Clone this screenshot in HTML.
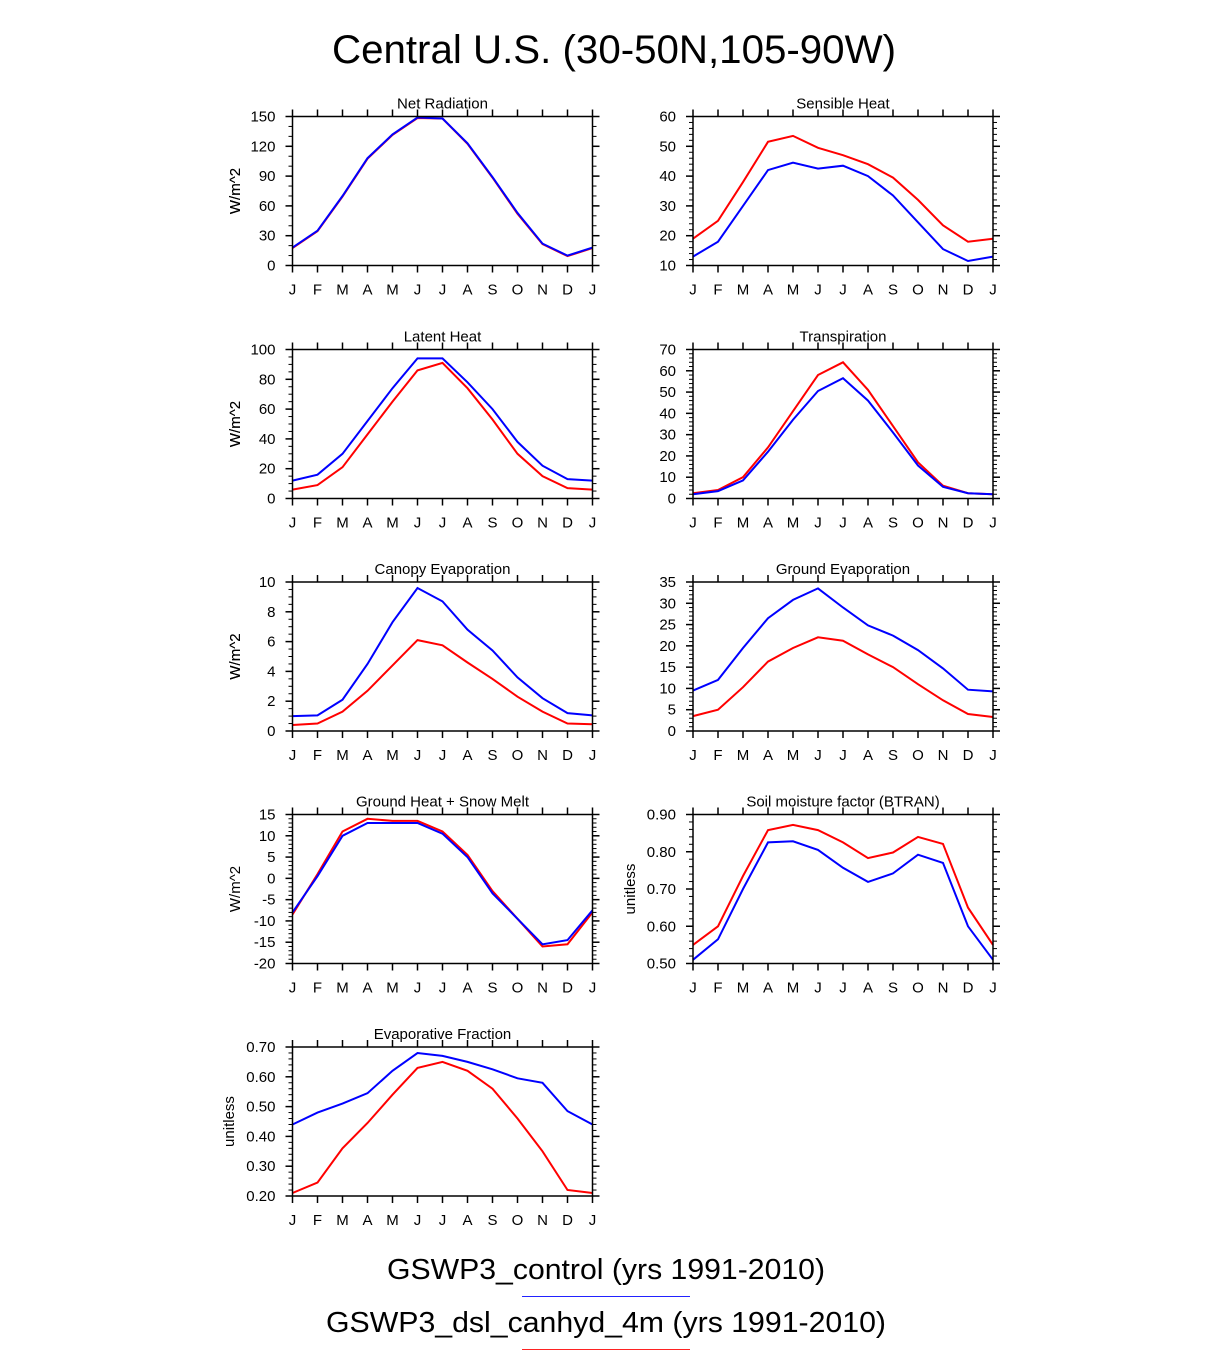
<!DOCTYPE html>
<html><head><meta charset="utf-8"><style>
html,body{margin:0;padding:0;background:#fff;}
svg{display:block;font-family:"Liberation Sans",Arial,sans-serif;}
</style></head><body>
<svg id="fig" width="1224" height="1351" viewBox="0 0 1224 1351" xmlns="http://www.w3.org/2000/svg">
<text x="614" y="63" font-size="40" text-anchor="middle" textLength="564" lengthAdjust="spacingAndGlyphs">Central U.S. (30-50N,105-90W)</text>
<text x="606" y="1279" font-size="29" text-anchor="middle" textLength="438" lengthAdjust="spacingAndGlyphs">GSWP3_control (yrs 1991-2010)</text>
<line x1="522" y1="1296.5" x2="690" y2="1296.5" stroke="#2222ff" stroke-width="1"/>
<text x="606" y="1332" font-size="29" text-anchor="middle" textLength="560" lengthAdjust="spacingAndGlyphs">GSWP3_dsl_canhyd_4m (yrs 1991-2010)</text>
<line x1="522" y1="1349.5" x2="690" y2="1349.5" stroke="#ff2222" stroke-width="1"/>
</svg>
<script>
const months=["J","F","M","A","M","J","J","A","S","O","N","D","J"];
const titles=["Net Radiation","Sensible Heat","Latent Heat","Transpiration","Canopy Evaporation","Ground Evaporation","Ground Heat + Snow Melt","Soil moisture factor (BTRAN)","Evaporative Fraction"];
const units=["W/m^2","W/m^2","W/m^2","W/m^2","W/m^2","W/m^2","W/m^2","unitless","unitless"];
const yMins=[0,10,0,0,0,0,-20,0.5,0.2];
const yMaxs=[150,60,100,70,10,35,15,0.9,0.7];
const ySteps=[30,10,20,10,2,5,5,0.1,0.1];
const yMinor=[10,2,5,2,0.5,1,1,0.02,0.02];
const yDec=[0,0,0,0,0,0,0,2,2];
const netRadCtl=[18,35,70,108,132,149,148,123,89,53,22,10,18];
const netRadDsl=[17.5,34.5,69.5,107.5,131.5,148.5,148,122.5,88.5,52,21.5,9.5,17.5];
const sensCtl=[13,18,30,42,44.5,42.5,43.5,40,33.5,24.5,15.5,11.5,13];
const sensDsl=[19,25,38,51.5,53.5,49.5,47,44,39.5,32,23.5,18,19];
const latCtl=[12,16,30,52,74,94,94,78,60,38,22,13,12];
const latDsl=[6,9,21,43,65,86,91,74,53,30,15,7,6];
const trCtl=[2,3.5,8.5,22,37,50.5,56.5,46,31,15.5,5.5,2.5,2];
const trDsl=[2.5,4,10,24,41,58,64,51,34,17,6,2.5,2];
const canCtl=[1,1.05,2.1,4.5,7.3,9.6,8.7,6.8,5.4,3.6,2.2,1.2,1.05];
const canDsl=[0.4,0.5,1.3,2.7,4.4,6.1,5.75,4.6,3.5,2.3,1.3,0.5,0.45];
const gevCtl=[9.5,12,19.5,26.5,30.8,33.5,29,24.8,22.4,19,14.7,9.7,9.3];
const gevDsl=[3.5,5,10.3,16.3,19.5,22,21.2,18,15,11,7.2,4,3.3];
const ghCtl=[-8,0.5,10,13,13,13,10.5,5,-3.5,-9.5,-15.5,-14.5,-7.5];
const ghDsl=[-8.5,1,11,14,13.5,13.5,11,5.5,-3,-9.5,-16,-15.5,-8];
const btCtl=[0.51,0.565,0.70,0.825,0.828,0.805,0.757,0.719,0.742,0.792,0.770,0.60,0.51];
const btDsl=[0.55,0.60,0.735,0.858,0.872,0.858,0.825,0.783,0.798,0.840,0.821,0.65,0.55];
const efCtl=[0.44,0.48,0.51,0.545,0.62,0.68,0.67,0.65,0.625,0.595,0.58,0.485,0.44];
const efDsl=[0.21,0.245,0.36,0.445,0.54,0.63,0.65,0.62,0.56,0.46,0.35,0.22,0.21];
const ctlSeries=[netRadCtl,sensCtl,latCtl,trCtl,canCtl,gevCtl,ghCtl,btCtl,efCtl];
const dslSeries=[netRadDsl,sensDsl,latDsl,trDsl,canDsl,gevDsl,ghDsl,btDsl,efDsl];

const NS="http://www.w3.org/2000/svg";
const svg=document.getElementById('fig');
function mk(tag,attrs,parent){const e=document.createElementNS(NS,tag);for(const k in attrs)e.setAttribute(k,attrs[k]);(parent||svg).appendChild(e);return e;}
const colX=[292.5,693];const rowY=[116.5,349.5,582,814.5,1047];const W=300,H=149;
for(let p=0;p<9;p++){
  const x0=colX[p%2],y0=rowY[Math.floor(p/2)];
  const g=mk('g',{});
  
  
  const lo=yMins[p],hi=yMaxs[p];
  const sx=i=>x0+i*W/12;
  const sy=v=>y0+H-(v-lo)/(hi-lo)*H;
  const t=mk('text',{x:x0+W/2,y:y0-8,'font-size':15,'text-anchor':'middle'},g);t.textContent=titles[p];
  
  const ux=p===7?635:(p===8?234:240);
  const u=mk('text',{x:ux,y:y0+H/2,'font-size':15,'text-anchor':'middle',transform:'rotate(-90 '+ux+' '+(y0+H/2)+')'},g);u.textContent=units[p];
  
  for(let i=0;i<13;i++){
    const x=sx(i);
    mk('line',{x1:x,y1:y0,x2:x,y2:y0-7,stroke:'#000','stroke-width':1.5},g);
    mk('line',{x1:x,y1:y0+H,x2:x,y2:y0+H+7,stroke:'#000','stroke-width':1.5},g);
    const l=mk('text',{x:x,y:y0+H+29,'font-size':15,'text-anchor':'middle'},g);l.textContent=months[i];
    
  }
  const nmin=Math.round((hi-lo)/yMinor[p]);
  for(let k=0;k<=nmin;k++){const y=sy(lo+k*yMinor[p]);
    mk('line',{x1:x0-4,y1:y,x2:x0,y2:y,stroke:'#000','stroke-width':1},g);
    mk('line',{x1:x0+W,y1:y,x2:x0+W+4,y2:y,stroke:'#000','stroke-width':1},g);}
  const nmaj=Math.round((hi-lo)/ySteps[p]);
  for(let k=0;k<=nmaj;k++){const v=lo+k*ySteps[p];const y=sy(v);
    mk('line',{x1:x0-7,y1:y,x2:x0,y2:y,stroke:'#000','stroke-width':1.5},g);
    mk('line',{x1:x0+W,y1:y,x2:x0+W+7,y2:y,stroke:'#000','stroke-width':1.5},g);
    const l=mk('text',{x:x0-17,y:y+5,'font-size':15,'text-anchor':'end'},g);l.textContent=v.toFixed(yDec[p]);
    }
  const d=s=>s.map((v,i)=>(i?'L':'M')+sx(i).toFixed(1)+','+sy(v).toFixed(1)).join('');
  const r=mk('path',{d:d(dslSeries[p]),fill:'none',stroke:'#ff0000','stroke-width':2},g);
  
  const b=mk('path',{d:d(ctlSeries[p]),fill:'none',stroke:'#0000ff','stroke-width':2},g);
  
  const f=mk('rect',{x:x0,y:y0,width:W,height:H,fill:'none',stroke:'#000','stroke-width':1.5},g);
  
}
</script>
</body></html>
